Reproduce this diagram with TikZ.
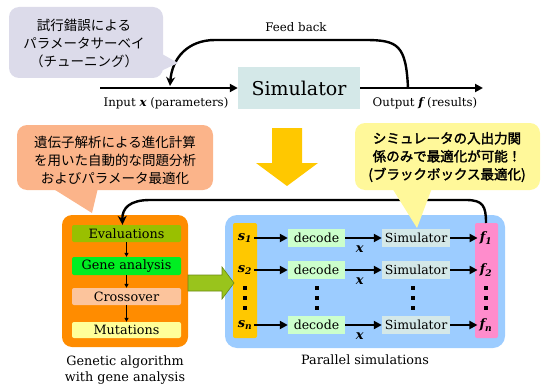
\documentclass[tikz,border=0pt]{standalone}
\usepackage{amsmath}
\usepackage{fontspec}
\setmainfont{DejaVu Serif}
\newfontfamily\jp[AutoFakeBold=2]{Noto Sans CJK JP}
\usetikzlibrary{arrows.meta,positioning}
\newcommand\bi[1]{\text{\bfseries\itshape #1}}
\definecolor{lavender}{HTML}{DCDBEA}
\definecolor{salmon}{HTML}{FBB48A}
\definecolor{paleyellow}{HTML}{FFF89A}
\definecolor{simcol}{HTML}{D4E8E8}
\definecolor{gold}{HTML}{FFC800}
\definecolor{gaorange}{HTML}{FF8C00}
\definecolor{evalgreen}{HTML}{99C000}
\definecolor{genegreen}{HTML}{00EE22}
\definecolor{peach}{HTML}{FCC49C}
\definecolor{mutyellow}{HTML}{FFFF99}
\definecolor{skyblue}{HTML}{9CCCFF}
\definecolor{pinkcol}{HTML}{FF8CCC}
\definecolor{decodegreen}{HTML}{CCFFCC}
\definecolor{arrowgreen}{HTML}{99C41C}

\begin{document}
\begin{tikzpicture}[x=1pt,y=-1pt,
  flow/.style={line width=2.2pt,-{Triangle[length=8pt,width=8pt]}},
  loop/.style={line width=2.4pt,-{Stealth[length=9pt,width=9pt]}},
  small/.style={line width=1.1pt,-{Triangle[length=4pt,width=4pt]}},
  lab/.style={font=\fontsize{11.8}{15}\selectfont,align=center,inner sep=0pt},
  jtext/.style={font=\jp\fontsize{13.5}{18}\selectfont,align=center,inner sep=0pt},
  gabox/.style={minimum width=109pt,inner sep=0pt,rounded corners=2pt,font=\fontsize{12.8}{14}\selectfont},
  rowbox/.style={minimum height=18pt,inner sep=0pt,font=\fontsize{12.5}{14}\selectfont},
  sym/.style={inner sep=2pt,font=\fontsize{13}{15}\selectfont}]
\useasboundingbox (0,0) rectangle (545,385);

% upper part
\node[fill=simcol,minimum width=122pt,minimum height=41pt,inner sep=0pt,
  font=\fontsize{19}{22}\selectfont] (sim) at (299,88) {Simulator};
\coordinate (in) at (100,88);
\coordinate (out) at (483,88);
\draw[flow] (in) -- (sim);
\draw[flow] (sim) -- (out);
\node[lab] (inlab) at (166,103) {Input $\bi{x}$ (parameters)};
\node[lab] (outlab) at (425,103) {Output $\bi{f}$ (results)};
\coordinate (fbs) at (408,88);
\coordinate (fbe) at (170,86);
\draw[loop] (fbs) .. controls (406,45) and (398,40) .. (365,40) -- (215,40)
  .. controls (188,40) and (172,58) .. (fbe);
\node[lab] (fblab) at (296,27) {Feed back};

\fill[lavender,rounded corners=10pt] (9,7) rectangle (163,78);
\fill[lavender] (155,50) -- (178,63) -- (146,78) -- cycle;
\node[jtext] (bub1) at (84,43) {試行錯誤による\\パラメータサーベイ\\（チューニング）};

% big arrow
\fill[gold] (272,128) -- (302,128) -- (302,163) -- (318,163) -- (287,186)
  -- (256,163) -- (272,163) -- cycle;

% lower part
\fill[skyblue,rounded corners=12pt] (225,215) rectangle (505,348);
\fill[gold,rounded corners=2pt] (233,223) rectangle (257,338);
\fill[pinkcol,rounded corners=2pt] (475,223) rectangle (498,338);

\fill[gaorange,rounded corners=10pt] (62,215) rectangle (188,347);
\node[gabox,fill=evalgreen,minimum height=17pt] (eval) at (126.5,233.5) {Evaluations};
\node[gabox,fill=genegreen,minimum height=18pt] (gene) at (126.5,266) {Gene analysis};
\node[gabox,fill=peach,minimum height=17pt] (cross) at (126.5,296.5) {Crossover};
\node[gabox,fill=mutyellow,minimum height=16pt] (mut) at (126.5,330) {Mutations};
\draw[small] (eval) -- (gene);
\draw[small] (gene) -- (cross);
\draw[small] (cross) -- (mut);
\node[lab,font=\fontsize{12.8}{16}\selectfont] (galab) at (125,370) {Genetic algorithm\\with gene analysis};

\filldraw[fill=arrowgreen,draw=arrowgreen!70!black,line width=0.6pt]
  (188,275) -- (222,275) -- (222,267) -- (234,283) -- (222,299) -- (222,291)
  -- (188,291) -- cycle;

\foreach \i/\y in {1/238,2/270,n/325}{
  \node[sym] (s\i) at (245,\y) {$\bi{s}_{\bi{\i}}$};
  \node[rowbox,fill=decodegreen,minimum width=57pt] (dec\i) at (316.5,\y) {decode};
  \node[rowbox,fill=simcol,minimum width=68pt] (sim\i) at (416,\y) {Simulator};
  \node[sym] (f\i) at (486,\y) {$\bi{f}_{\bi{\i}}$};
  \draw[flow] (s\i) -- (dec\i);
  \draw[flow] (dec\i) -- node[pos=0.4,below=7pt,sym,inner sep=0pt]{$\bi{x}$} (sim\i);
  \draw[flow] (sim\i) -- (f\i);
}
\foreach \xx in {245,317,413,486}
  \foreach \yy in {288,298,308}
    \fill (\xx,\yy) +(-2.4,-2.4) rectangle +(2.4,2.4);
\node[lab,font=\fontsize{12.8}{16}\selectfont] (parlab) at (365,360) {Parallel simulations};

\coordinate (fcol) at (486,223);
\draw[loop] (fcol) .. controls (486,206) and (483,200) .. (466,200) -- (150,200)
  .. controls (130,200) and (122,208) .. ([xshift=-4pt]eval.north);

% bubbles below
\fill[salmon,rounded corners=10pt] (17,125) rectangle (213,190);
\fill[salmon] (52,188) -- (92,213) -- (98,188) -- cycle;
\node[jtext] (bub2) at (115,160) {遺伝子解析による進化計算\\を用いた自動的な問題分析\\およびパラメータ最適化};

\fill[paleyellow,rounded corners=10pt] (355,123) rectangle (540,190);
\fill[paleyellow] (392,188) -- (417,228) -- (432,188) -- cycle;
\node[jtext,font=\jp\bfseries\fontsize{13.5}{18}\selectfont] (bub3) at (447,157)
  {シミュレータの入出力関\\係のみで最適化が可能！\\(ブラックボックス最適化)};
\end{tikzpicture}
\end{document}
